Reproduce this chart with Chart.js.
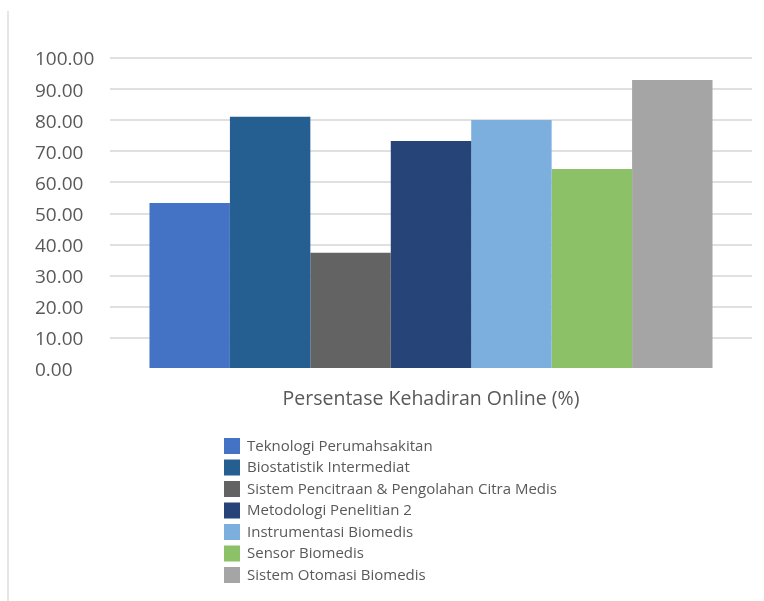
<!DOCTYPE html>
<html>
<head>
<meta charset="utf-8">
<script src="https://cdn.jsdelivr.net/npm/chart.js@4/dist/chart.umd.min.js"></script>
<style>
html,body{margin:0;padding:0;background:#fff;}
#wrap{position:relative;width:764px;height:601px;overflow:hidden;}
#wrap canvas{position:absolute;left:0;top:0;}
#edge{position:absolute;left:7px;top:11px;width:2px;bottom:0;background:#e6e6e6;}
</style>
</head>
<body>
<div id="wrap"><canvas id="c" width="764" height="601"></canvas><div id="edge"></div></div>
<script>
const categories = ['Persentase Kehadiran Online (%)'];
const seriesNames = [
  'Teknologi Perumahsakitan',
  'Biostatistik Intermediat',
  'Sistem Pencitraan & Pengolahan Citra Medis',
  'Metodologi Penelitian 2',
  'Instrumentasi Biomedis',
  'Sensor Biomedis',
  'Sistem Otomasi Biomedis'
];
const seriesValues = [53.4, 81.1, 37.4, 73.3, 80.1, 64.3, 92.9];
const seriesColors = ['#4472C4', '#255E91', '#636363', '#264478', '#7CAFDD', '#8CC168', '#A5A5A5'];
const yMin = 0, yMax = 100, yStep = 10;

const FONT = '"Open Sans", "DejaVu Sans", sans-serif';

const stackedLegend = {
  id: 'stackedLegend',
  afterDraw(chart, args, opts) {
    const ctx = chart.ctx;
    ctx.save();
    ctx.font = opts.fontSize + 'px ' + FONT;
    ctx.textBaseline = 'middle';
    ctx.textAlign = 'left';
    const top = chart.chartArea.bottom + opts.offsetTop;
    chart.data.datasets.forEach((ds, i) => {
      const y = top + i * opts.rowHeight;
      ctx.fillStyle = ds.backgroundColor;
      ctx.fillRect(opts.left, y, opts.box, opts.box);
      ctx.fillStyle = opts.color;
      ctx.fillText(ds.label, opts.left + opts.box + opts.gap, y + opts.box / 2 + 0.5);
    });
    ctx.restore();
  }
};

const datasets = seriesNames.map((name, i) => ({
  label: name,
  data: [seriesValues[i]],
  backgroundColor: seriesColors[i],
  borderWidth: 0,
  categoryPercentage: 0.877,
  barPercentage: 1.0
}));

new Chart(document.getElementById('c'), {
  type: 'bar',
  data: { labels: categories, datasets },
  plugins: [stackedLegend],
  options: {
    responsive: false,
    animation: false,
    devicePixelRatio: 1,
    layout: { padding: { left: 35, right: 12, top: 58, bottom: 0 } },
    plugins: {
      legend: { display: false },
      tooltip: { enabled: false },
      stackedLegend: { left: 224, offsetTop: 69, box: 16, rowHeight: 21.5, gap: 7, fontSize: 15, color: '#595959' }
    },
    scales: {
      x: {
        grid: { display: false },
        border: { display: false },
        ticks: { color: '#595959', font: { family: FONT, size: 19.5 }, padding: 11 },
        afterFit(s) { s.height = 232; }
      },
      y: {
        min: yMin,
        max: yMax,
        border: { display: false },
        grid: {
          drawTicks: false,
          lineWidth: 2,
          color: (c) => (c.tick && c.tick.value === 0) ? 'rgba(0,0,0,0)' : '#e0e0e0'
        },
        ticks: {
          stepSize: yStep,
          color: '#595959',
          font: { family: FONT, size: 19 },
          crossAlign: 'far',
          labelOffset: 2,
          callback: (v) => Number(v).toFixed(2)
        },
        afterFit(s) { s.width = 75; }
      }
    }
  }
});
</script>
</body>
</html>
